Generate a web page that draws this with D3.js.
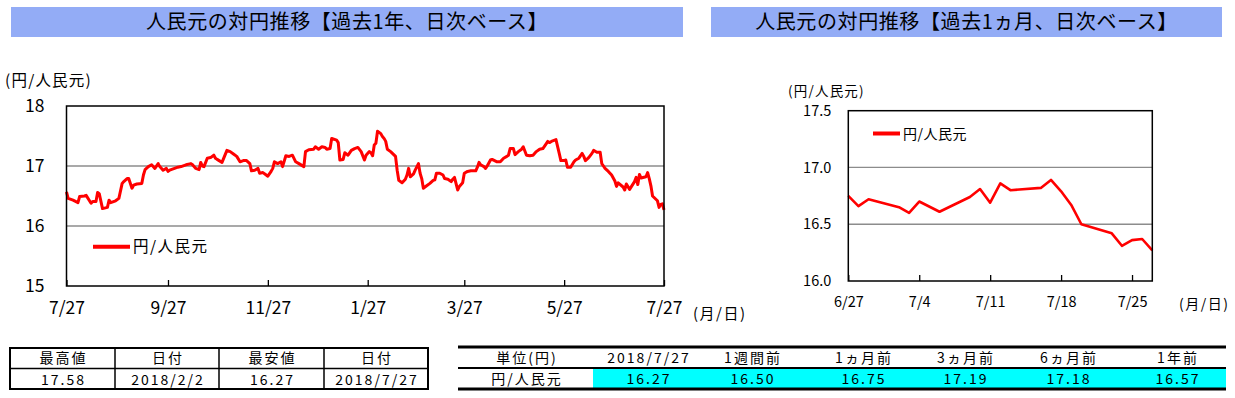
<!DOCTYPE html>
<html><head><meta charset="utf-8">
<script src="https://cdn.jsdelivr.net/npm/d3@7"></script>
<style>
body{margin:0;background:#fff;}
svg text{font-family:"Noto Sans CJK JP","Noto Sans",sans-serif;fill:#000;}
</style></head><body><svg id="c" width="1235" height="398"></svg>
<script>
// ---------- DATA ----------
const dates = ["2017-07-27","2017-07-28","2017-07-31","2017-08-03","2017-08-04","2017-08-07","2017-08-08","2017-08-11","2017-08-12","2017-08-14","2017-08-15","2017-08-16","2017-08-18","2017-08-21","2017-08-22","2017-08-23","2017-08-26","2017-08-28","2017-08-30","2017-08-31",
"2017-09-02","2017-09-03","2017-09-05","2017-09-06","2017-09-08","2017-09-11","2017-09-12","2017-09-13","2017-09-15","2017-09-17","2017-09-19","2017-09-21","2017-09-22","2017-09-24","2017-09-26","2017-09-27","2017-09-28",
"2017-10-01","2017-10-03","2017-10-05","2017-10-08","2017-10-11","2017-10-12","2017-10-14","2017-10-16","2017-10-17","2017-10-18","2017-10-19","2017-10-21","2017-10-23","2017-10-25","2017-10-26","2017-10-27","2017-10-30",
"2017-11-02","2017-11-04","2017-11-06","2017-11-08","2017-11-10","2017-11-12","2017-11-14","2017-11-16","2017-11-17","2017-11-19","2017-11-21","2017-11-22","2017-11-24","2017-11-26","2017-11-27","2017-11-29","2017-11-30",
"2017-12-01","2017-12-03","2017-12-05","2017-12-06","2017-12-08","2017-12-10","2017-12-12","2017-12-14","2017-12-16","2017-12-19","2017-12-20","2017-12-22","2017-12-25","2017-12-26","2017-12-28","2017-12-30",
"2018-01-01","2018-01-02","2018-01-04","2018-01-05","2018-01-08","2018-01-09","2018-01-10","2018-01-12","2018-01-13","2018-01-15","2018-01-17","2018-01-19","2018-01-21","2018-01-23","2018-01-25","2018-01-26","2018-01-28","2018-01-29","2018-01-30","2018-01-31",
"2018-02-01","2018-02-02","2018-02-04","2018-02-05","2018-02-06","2018-02-07","2018-02-08","2018-02-10","2018-02-13","2018-02-14","2018-02-15","2018-02-17","2018-02-19","2018-02-20","2018-02-21","2018-02-22","2018-02-24","2018-02-25","2018-02-27","2018-02-28",
"2018-03-01","2018-03-02","2018-03-04","2018-03-06","2018-03-08","2018-03-09","2018-03-10","2018-03-12","2018-03-14","2018-03-15","2018-03-17","2018-03-19","2018-03-20","2018-03-21","2018-03-23","2018-03-24","2018-03-26","2018-03-27","2018-03-29","2018-03-31",
"2018-04-03","2018-04-04","2018-04-05","2018-04-06","2018-04-08","2018-04-09","2018-04-10","2018-04-12","2018-04-13","2018-04-16","2018-04-18","2018-04-20","2018-04-22","2018-04-23","2018-04-24","2018-04-26","2018-04-27","2018-04-29",
"2018-05-01","2018-05-02","2018-05-04","2018-05-06","2018-05-08","2018-05-10","2018-05-12","2018-05-14","2018-05-16","2018-05-17","2018-05-18","2018-05-20","2018-05-22","2018-05-24","2018-05-25","2018-05-27","2018-05-28","2018-05-29","2018-05-31",
"2018-06-02","2018-06-03","2018-06-05","2018-06-07","2018-06-08","2018-06-09","2018-06-11","2018-06-13","2018-06-14","2018-06-16","2018-06-18","2018-06-19","2018-06-20","2018-06-21","2018-06-23","2018-06-25",
"2018-06-27","2018-06-28","2018-06-29","2018-07-02","2018-07-03","2018-07-04","2018-07-06","2018-07-09","2018-07-10","2018-07-11","2018-07-12","2018-07-13","2018-07-16","2018-07-17","2018-07-18","2018-07-19","2018-07-20","2018-07-23","2018-07-24","2018-07-25","2018-07-26","2018-07-27"];
const rates = [16.57,16.46,16.43,16.39,16.49,16.50,16.51,16.38,16.41,16.41,16.56,16.54,16.29,16.31,16.43,16.39,16.42,16.46,16.71,16.74,
16.79,16.79,16.63,16.68,16.70,16.71,16.85,16.94,16.99,17.02,16.96,17.04,16.99,16.93,16.96,16.91,16.93,
16.96,16.98,16.99,17.02,17.04,17.02,16.96,16.94,17.06,17.00,16.99,17.13,17.14,17.18,17.13,17.11,17.06,
17.26,17.24,17.20,17.16,17.07,17.09,17.09,17.04,16.92,16.93,16.96,16.88,16.89,16.85,16.83,16.91,16.96,
17.07,17.04,17.07,16.99,17.17,17.16,17.18,17.07,17.04,16.99,17.24,17.27,17.28,17.32,17.28,17.32,
17.31,17.28,17.29,17.46,17.43,17.39,17.10,17.11,17.22,17.18,17.26,17.29,17.31,17.24,17.10,17.18,17.24,17.22,17.17,17.35,
17.38,17.58,17.54,17.49,17.46,17.41,17.28,17.24,17.16,16.93,16.76,16.72,16.78,16.85,16.96,16.82,16.87,16.93,17.04,16.88,
16.79,16.63,16.67,16.71,16.76,16.77,16.88,16.88,16.85,16.79,16.78,16.74,16.78,16.81,16.60,16.66,16.72,16.88,16.91,16.92,
16.92,16.98,17.06,17.02,16.99,16.96,17.00,17.10,17.11,17.07,17.07,17.13,17.16,17.18,17.29,17.29,17.19,17.24,
17.28,17.32,17.18,17.17,17.18,17.24,17.28,17.29,17.37,17.41,17.39,17.42,17.44,17.21,17.09,17.09,17.10,16.98,16.98,
17.07,17.10,17.13,17.21,17.16,17.09,17.14,17.21,17.26,17.23,17.23,17.04,17.00,16.96,16.91,16.85,
16.75,16.66,16.72,16.65,16.60,16.70,16.61,16.74,16.81,16.69,16.86,16.80,16.82,16.89,16.79,16.67,16.50,16.42,16.31,16.36,16.37,16.27];

const seriesName = "円/人民元";
const yearTitle = "人民元の対円推移【過去1年、日次ベース】";
const monthTitle = "人民元の対円推移【過去1ヵ月、日次ベース】";
const yearDomain = ["2017-07-27","2018-07-27"];
const monthDomain = ["2018-06-27","2018-07-27"];
const yearXTicks = ["2017-07-27","2017-09-27","2017-11-27","2018-01-27","2018-03-27","2018-05-27","2018-07-27"];
const monthXTicks = ["2018-06-27","2018-07-04","2018-07-11","2018-07-18","2018-07-25"];
const yearYTicks = [15,16,17,18];
const yearGrid = [16,17];
const monthYTicks = [16.0,16.5,17.0,17.5];
const monthGrid = [16.5,17.0];
const statHeaders = ["最高値","日付","最安値","日付"];
const statValues = ["17.58","2018/2/2","16.27","2018/7/27"];
const cmpHeaders = ["単位(円)","2018/7/27","1週間前","1ヵ月前","3ヵ月前","6ヵ月前","1年前"];
const cmpValues = ["円/人民元","16.27","16.50","16.75","17.19","17.18","16.57"];

// ---------- DRAW ----------
const parse = d3.timeParse("%Y-%m-%d");
const fmt = d3.timeFormat("%-m/%-d");
const data = dates.map((d,i)=>({date:parse(d), v:rates[i]}));
const svg = d3.select("#c");
const RED = "#ff0000", GRID = "#8c8c8c", BAR = "#93acf6";

function titleBar(x0,x1,text){
  svg.append("rect").attr("x",x0).attr("y",7).attr("width",x1-x0).attr("height",30).attr("fill",BAR);
  svg.append("text").attr("x",(x0+x1)/2).attr("y",22).attr("dy","0.36em")
    .attr("text-anchor","middle").attr("font-size",20).attr("letter-spacing",0.6).text(text);
}
titleBar(11,683,yearTitle);
titleBar(711,1222,monthTitle);

function chart(o){
  const x = d3.scaleTime().domain(o.domain.map(parse)).range([o.l,o.r]);
  const y = d3.scaleLinear().domain([o.yTicks[0],o.yTicks[o.yTicks.length-1]]).range([o.b,o.t]);
  const g = svg.append("g");
  g.selectAll("line.grid").data(o.grid).join("line")
    .attr("x1",o.l).attr("x2",o.r).attr("y1",d=>y(d)).attr("y2",d=>y(d))
    .attr("stroke",GRID).attr("stroke-width",1.3);
  const xa = g.append("g").attr("transform",`translate(0,${o.b})`)
    .call(d3.axisBottom(x).tickValues(o.xTicks.map(parse)).tickFormat(fmt).tickSize(-6).tickPadding(o.xPad));
  xa.select(".domain").remove();
  xa.selectAll("line").attr("stroke","#000").attr("stroke-width",1.3);
  xa.selectAll("text").attr("font-size",o.fs).attr("fill","#000").style("font-family",'"Noto Sans CJK JP",sans-serif');
  const ya = g.append("g").attr("transform",`translate(${o.l},0)`)
    .call(d3.axisLeft(y).tickValues(o.yTicks).tickFormat(o.yFmt).tickSize(0).tickPadding(o.yPad));
  ya.select(".domain").remove();
  ya.selectAll("text").attr("font-size",o.fs).attr("fill","#000").style("font-family",'"Noto Sans CJK JP",sans-serif');
  const sub = data.filter(d=>d.date>=x.domain()[0] && d.date<=x.domain()[1]);
  g.append("path").datum(sub).attr("fill","none").attr("stroke",RED).attr("stroke-width",o.lw)
    .attr("stroke-linejoin","round").attr("d",d3.line().x(d=>x(d.date)).y(d=>y(d.v)));
  g.append("rect").attr("x",o.l).attr("y",o.t).attr("width",o.r-o.l).attr("height",o.b-o.t)
    .attr("fill","none").attr("stroke","#000").attr("stroke-width",1.5);
  // legend
  g.append("line").attr("x1",o.lg[0]).attr("x2",o.lg[1]).attr("y1",o.lg[2]).attr("y2",o.lg[2])
    .attr("stroke",RED).attr("stroke-width",4);
  g.append("text").attr("x",o.lg[1]+3).attr("y",o.lg[2]).attr("dy","0.36em").attr("font-size",o.lgfs)
    .attr("letter-spacing",o.lgls).text(seriesName);
  // unit labels
  g.append("text").attr("x",o.unit[0]).attr("y",o.unit[1]).attr("dy","0.36em").attr("font-size",o.unit[2])
    .attr("letter-spacing",1.2).text("(円/人民元)");
  g.append("text").attr("x",o.md[0]).attr("y",o.md[1]).attr("dy","0.36em").attr("font-size",o.md[2])
    .attr("letter-spacing",1.5).text("(月/日)");
}

chart({domain:yearDomain,l:66.5,r:664,t:106,b:286,xTicks:yearXTicks,yTicks:yearYTicks,grid:yearGrid,
  yFmt:d3.format("d"),fs:17.5,xPad:16,yPad:22,lw:3,lg:[93,130,246.7],lgfs:15.5,lgls:1.5,unit:[5,80,15.5],md:[693,314,15]});
chart({domain:monthDomain,l:848.3,r:1152.3,t:110.7,b:281,xTicks:monthXTicks,yTicks:monthYTicks,grid:monthGrid,
  yFmt:d3.format(".1f"),fs:14.5,xPad:16,yPad:17,lw:2.6,lg:[873,900,133.5],lgfs:14,lgls:0.5,unit:[788,91,13.5],md:[1179,304,14]});

// ---------- TABLES ----------
const tfs = 14, tls = 2;
// left stats table
const lCols = [10,115,219,324,428];
svg.append("rect").attr("x",10).attr("y",348).attr("width",418).attr("height",41)
  .attr("fill","none").attr("stroke","#000").attr("stroke-width",2);
svg.append("line").attr("x1",10).attr("x2",428).attr("y1",368.5).attr("y2",368.5).attr("stroke","#000").attr("stroke-width",1.5);
svg.selectAll("line.lc").data(lCols.slice(1,4)).join("line").attr("class","lc")
  .attr("x1",d=>d).attr("x2",d=>d).attr("y1",348).attr("y2",389).attr("stroke","#000").attr("stroke-width",1.5);
statHeaders.forEach((h,i)=>{
  const cx=(lCols[i]+lCols[i+1])/2+1;
  svg.append("text").attr("x",cx).attr("y",358).attr("dy","0.36em").attr("text-anchor","middle").attr("font-size",tfs).attr("letter-spacing",tls).text(h);
  svg.append("text").attr("x",cx).attr("y",379.5).attr("dy","0.36em").attr("text-anchor","middle").attr("font-size",tfs).attr("letter-spacing",tls).text(statValues[i]);
});
// right comparison table
const rCenters = [527,649,753,864,966,1069,1178];
svg.append("rect").attr("x",593).attr("y",369).attr("width",633).attr("height",19).attr("fill","#00ffff");
[[347,3],[368,2],[389,3]].forEach(([yy,w])=>{
  svg.append("line").attr("x1",458).attr("x2",1226).attr("y1",yy).attr("y2",yy).attr("stroke","#000").attr("stroke-width",w);
});
cmpHeaders.forEach((h,i)=>{
  svg.append("text").attr("x",rCenters[i]).attr("y",357.5).attr("dy","0.36em").attr("text-anchor","middle").attr("font-size",tfs).attr("letter-spacing",tls).text(h);
  svg.append("text").attr("x",rCenters[i]).attr("y",379).attr("dy","0.36em").attr("text-anchor","middle").attr("font-size",tfs).attr("letter-spacing",tls).text(cmpValues[i]);
});
</script></body></html>
